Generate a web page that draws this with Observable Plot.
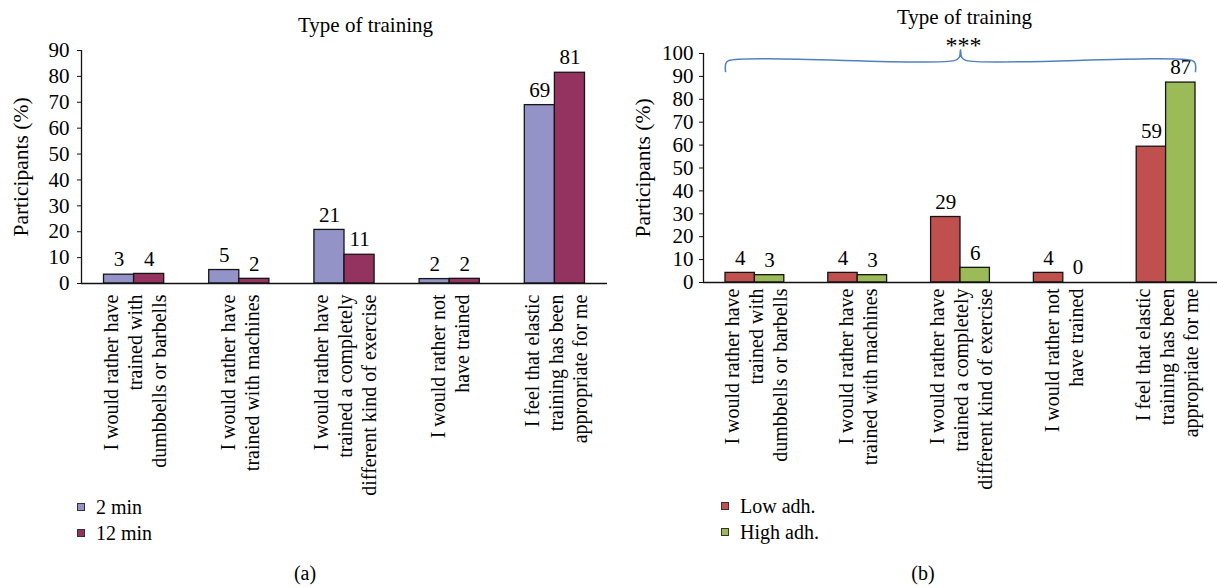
<!DOCTYPE html>
<html><head><meta charset="utf-8">
<script src="https://cdn.jsdelivr.net/npm/d3@7"></script>
<script src="https://cdn.jsdelivr.net/npm/@observablehq/plot@0.6"></script>
<style>
body{margin:0;background:#fff;font-family:"Liberation Serif","Times New Roman",serif;color:#000;}
#wrap{position:relative;width:1217px;height:588px;overflow:hidden;background:#fff;}
.panel{position:absolute;top:0;}
.panel svg, .panel svg g, .panel svg text{font-family:"Liberation Serif","Times New Roman",serif !important;}
.legend{position:absolute;font-size:20px;line-height:26px;}
.legend .item{display:flex;align-items:center;white-space:nowrap;height:26px;}
.sw{width:6px;height:6px;border:1px solid #333;margin-right:11px;flex:none;}
.cap{position:absolute;font-size:20px;transform:translate(-50%,-50%);white-space:nowrap;}
</style></head><body>
<div id="wrap">
  <div id="pa" class="panel" style="left:0;width:610px"></div>
  <div id="pb" class="panel" style="left:600px;width:617px"></div>
  <div id="la" class="legend" style="left:77px;top:494px"></div>
  <div id="lb" class="legend" style="left:721px;top:493px"></div>
  <div class="cap" style="left:305px;top:573px">(a)</div>
  <div class="cap" style="left:923px;top:573px">(b)</div>
</div>
<script>
// ---- data ----
const categories = [
  "I would rather have\ntrained with\ndumbbells or barbells",
  "I would rather have\ntrained with machines",
  "I would rather have\ntrained a completely\ndifferent kind of exercise",
  "I would rather not\nhave trained",
  "I feel that elastic\ntraining has been\nappropriate for me"
];
const seriesA = ["2 min", "12 min"];
const valuesA2min = [3.4, 5.2, 20.7, 1.7, 68.9];
const valuesA12min = [3.7, 1.8, 11.1, 1.8, 81.4];
const colorsA = ["#9393C8", "#943360"];

const seriesB = ["Low adh.", "High adh."];
const valuesBLow = [4.2, 4.2, 28.6, 4.2, 59.3];
const valuesBHigh = [3.2, 3.2, 6.4, 0, 87.3];
const colorsB = ["#C0504D", "#9BBB59"];

const yTicksA = [0, 10, 20, 30, 40, 50, 60, 70, 80, 90];
const yTicksB = [0, 10, 20, 30, 40, 50, 60, 70, 80, 90, 100];
const title = "Type of training";
const yLabel = "Participants (%)";
const significance = "***";

// ---- helpers ----
const FONT = '"Liberation Serif", "Times New Roman", serif';
const BW = 0.286; // bar width in category units

function buildRows(series, valueLists) {
  const rows = [];
  categories.forEach((c, i) => {
    series.forEach((s, j) => {
      const x1 = i + 0.5 + (j - series.length / 2) * BW;
      rows.push({category: c, series: s, value: valueLists[j][i], x1, x2: x1 + BW});
    });
  });
  return rows;
}

function panel({series, valueLists, colors, yMax, yTicks, width, marginLeft, marginRight, marginTop, height, marginBottom, titleDx, titleDy, tickPadding, yTickPadding, lineHeight, extra = []}) {
  const rows = buildRows(series, valueLists);
  return Plot.plot({
    width, height, marginLeft, marginRight, marginTop, marginBottom,
    style: {fontFamily: FONT, fontSize: "20px", background: "transparent", overflow: "visible", color: "#000"},
    x: {type: "linear", domain: [0, categories.length], axis: null},
    y: {domain: [0, yMax], axis: null},
    color: {domain: series, range: colors},
    marks: [
      Plot.rectY(rows, {x1: "x1", x2: "x2", y1: () => 0, y2: "value", fill: "series", stroke: "#151515", strokeWidth: 1.3}),
      Plot.ruleY([0], {stroke: "#111", strokeWidth: 1.3}),
      Plot.ruleX([0], {stroke: "#111", strokeWidth: 1.3}),
      Plot.axisY({ticks: yTicks, tickSize: 4, tickPadding: yTickPadding, fontSize: 21, fontFamily: FONT, label: null, stroke: "#111"}),
      Plot.text([yLabel], {frameAnchor: "left", textAnchor: "middle", dx: -60, rotate: -90, fontSize: 21.5, fontFamily: FONT}),
      Plot.axisX({ticks: categories.map((_, i) => i + 0.5), tickFormat: v => categories[Math.floor(v)], tickRotate: -90, tickSize: 0, tickPadding, lineHeight, fontSize: 20, fontFamily: FONT, label: null}),
      Plot.text(rows, {x: d => (d.x1 + d.x2) / 2, y: "value", text: d => d3.format(".0f")(d.value), dy: -15, fontSize: 21, fontFamily: FONT}),
      Plot.text([title], {frameAnchor: "top", dx: titleDx, dy: titleDy, fontSize: 21, fontFamily: FONT}),
      ...extra
    ]
  });
}

// brace above panel b (from first bar left edge to last bar right edge)
const bl = 0.5 - BW, br = categories.length - 0.5 + BW, bm = categories.length / 2;
const braceRows = [
  {x: bl, y: 92.1}, {x: bl + 0.003, y: 95.6}, {x: bl + 0.03, y: 96.9},
  {x: bm - 0.06, y: 96.9}, {x: bm - 0.012, y: 98.3}, {x: bm, y: 101.6},
  {x: bm + 0.012, y: 98.3}, {x: bm + 0.06, y: 96.9},
  {x: br - 0.03, y: 96.9}, {x: br - 0.003, y: 95.6}, {x: br, y: 92.1}
];

document.getElementById("pa").append(panel({
  series: seriesA, valueLists: [valuesA2min, valuesA12min], colors: colorsA,
  yMax: 90, yTicks: yTicksA, width: 610, marginLeft: 81, marginRight: 3,
  marginTop: 50, height: 510, marginBottom: 227, titleDx: 21, titleDy: -33,
  tickPadding: 11, yTickPadding: 8, lineHeight: 1.2
}));

document.getElementById("pb").append(panel({
  series: seriesB, valueLists: [valuesBLow, valuesBHigh], colors: colorsB,
  yMax: 100, yTicks: yTicksB, width: 617, marginLeft: 103, marginRight: 0,
  marginTop: 53, height: 510, marginBottom: 228, titleDx: 4, titleDy: -44,
  tickPadding: 6, yTickPadding: 6, lineHeight: 1.2,
  extra: [
    Plot.line(braceRows, {x: "x", y: "y", stroke: "#4F81BD", strokeWidth: 1.5, curve: "catmull-rom"}),
    Plot.text([significance], {frameAnchor: "top", dx: 3, dy: -18, fontSize: 24, fontFamily: FONT})
  ]
}));

function legend(id, series, colors) {
  const el = document.getElementById(id);
  series.forEach((s, i) => {
    const item = document.createElement("div");
    item.className = "item";
    const sw = document.createElement("span");
    sw.className = "sw";
    sw.style.background = colors[i];
    const t = document.createElement("span");
    t.textContent = s;
    item.append(sw, t);
    el.append(item);
  });
}
legend("la", seriesA, colorsA);
legend("lb", seriesB, colorsB);
</script>
</body></html>
